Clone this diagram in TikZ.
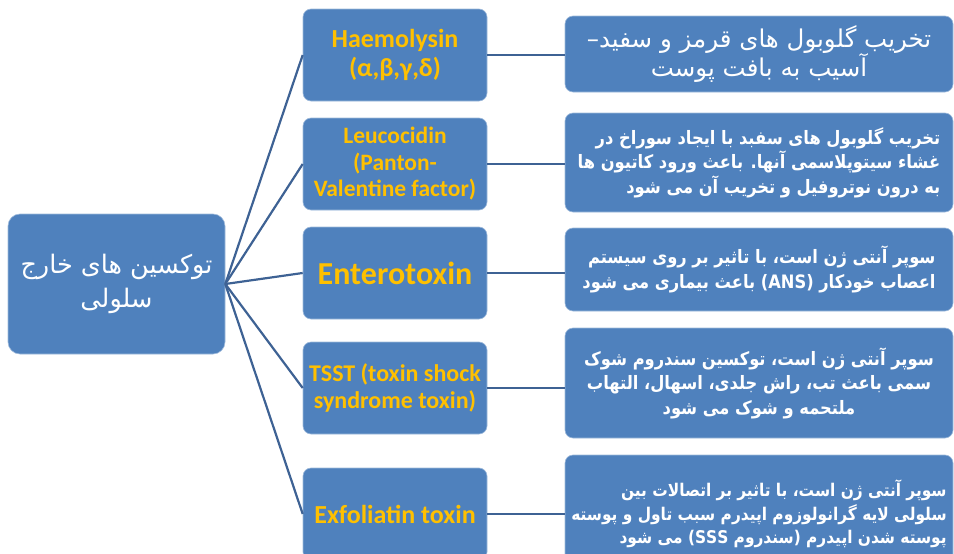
\documentclass[tikz,border=0pt]{standalone}
\usepackage{fontspec}
\setmainfont{Carlito}
\newfontfamily\farsifont[Script=Arabic, BoldFeatures={FakeStretch=0.88}]{DejaVu Sans}
\TeXXeTstate=1
\usetikzlibrary{positioning}

\definecolor{boxblue}{RGB}{79,129,189}
\definecolor{linkblue}{RGB}{62,98,148}
\definecolor{toxingold}{RGB}{255,192,0}

\tikzset{
  box/.style={fill=boxblue, draw=boxblue!55!white, line width=0.6pt, rounded corners=8pt, inner sep=2pt, align=center},
  toxin/.style={box, minimum width=184pt, minimum height=92pt, text=toxingold, font=\bfseries\fontsize{26}{29}\selectfont},
  effect/.style={box, minimum width=388pt, text=white, font=\farsifont\bfseries\fontsize{18.5}{24.5}\selectfont},
  link/.style={linkblue, line width=2.2pt},
}

\begin{document}
\begin{tikzpicture}[x=1pt, y=-1pt]
\useasboundingbox (0,0) rectangle (954,554);
\clip (0,0) rectangle (954,554);

% root
\node[box, rounded corners=12pt, minimum width=217pt, minimum height=140pt, text=white,
      font=\farsifont\fontsize{25.5}{34}\selectfont] (root) at (116.5,284)
  {\beginR توکسین های خارج\endR\\\beginR سلولی\endR};

% toxins
\node[toxin] (hae) at (395,55) {Haemolysin\\(α,β,γ,δ)};
\node[toxin, font=\bfseries\fontsize{23.5}{26.5}\selectfont] (leu) at (395,164) {Leucocidin\\(Panton-\\Valentine factor)};
\node[toxin, font=\bfseries\fontsize{32}{36}\selectfont] (ent) at (395,273) {Enterotoxin};
\node[toxin, font=\bfseries\fontsize{24}{27}\selectfont] (tss) at (395,388) {TSST (toxin shock\\syndrome toxin)};
\node[toxin] (exf) at (395,514) {Exfoliatin toxin};

% effects
\node[effect, minimum height=76pt, font=\farsifont\fontsize{24.5}{29}\selectfont] (haeR) at (759,54)
  {\beginR تخریب گلوبول های قرمز و سفید–\endR\\\beginR آسیب به بافت پوست\endR};
\node[effect, minimum height=99pt, align=right, inner xsep=5pt] (leuR) at (759,162.5)
  {\beginR تخریب گلوبول های سفبد با ایجاد سوراخ در\endR\\
   \beginR غشاء سیتوپلاسمی آنها. باعث ورود کاتیون ها\endR\\
   \beginR به درون نوتروفیل و تخریب آن می شود\endR};
\node[effect, minimum height=83pt, align=right, inner xsep=5pt] (entR) at (759,269.5)
  {\beginR سوپر آنتی ژن است، با تاثیر بر روی سیستم\endR\\
   \beginR اعصاب خودکار (ANS) باعث بیماری می شود\endR};
\node[effect, minimum height=110pt] (tssR) at (759,383)
  {\beginR سوپر آنتی ژن است، توکسین سندروم شوک\endR\\
   \beginR سمی باعث تب، راش جلدی، اسهال، التهاب\endR\\
   \beginR ملتحمه و شوک می شود\endR};
\node[effect, minimum height=118pt, align=right, inner xsep=4pt,
      font=\farsifont\bfseries\fontsize{17.5}{23.5}\selectfont] (exfR) at (759,514)
  {\beginR سوپر آنتی ژن است، با تاثیر بر اتصالات بین\endR\\
   \beginR سلولی لایه گرانولوزوم اپیدرم سبب تاول و پوسته\endR\\
   \beginR پوسته شدن اپیدرم (سندروم (SSS می شود\endR};

% links
\foreach \t in {hae,leu,ent,tss,exf}{
  \draw[link] (root.east) -- (\t.west);
  \draw[link] (\t.east) -- (\t.east -| \t R.west);
}
\end{tikzpicture}
\end{document}
